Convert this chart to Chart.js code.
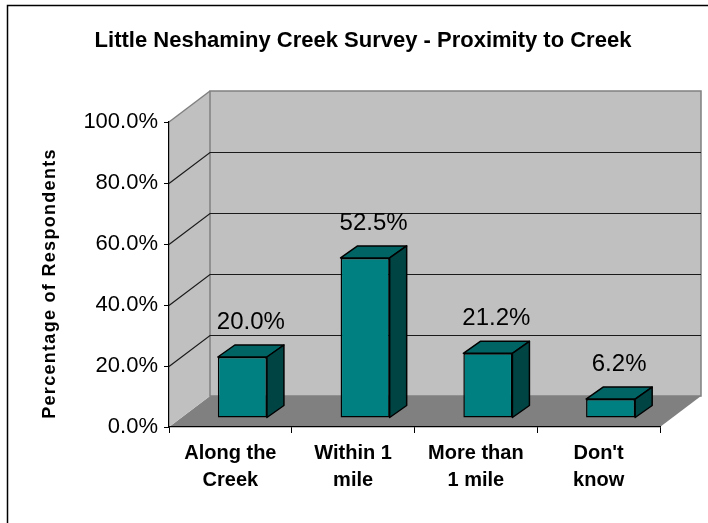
<!DOCTYPE html>
<html>
<head>
<meta charset="utf-8">
<script src="https://cdn.jsdelivr.net/npm/chart.js@4"></script>
<style>
  body { margin: 0; background: #fff; }
</style>
</head>
<body>
<canvas id="chart" width="708" height="523"></canvas>
<script>
// survey data
var categories = [['Along the', 'Creek'], ['Within 1', 'mile'], ['More than', '1 mile'], ["Don't", 'know']];
var percents = [20.0, 52.5, 21.2, 6.2];
var yTicks = [0, 20, 40, 60, 80, 100];

var FONT = '"Liberation Sans", Arial, sans-serif';
Chart.defaults.font.family = FONT;
Chart.defaults.color = '#000';

// fake 3d: how far the walls go back, and where the bars sit in that depth
var wallDepth = { dx: 41, dy: -31 };
var barFront = { dx: 12, dy: -9 };
var barDepth = { dx: 17, dy: -12 };

var excel3d = {
  id: 'excel3d',
  beforeDraw: function (chart) {
    var ctx = chart.ctx;
    var a = chart.chartArea;
    var y = chart.scales.y;
    var dx = wallDepth.dx, dy = wallDepth.dy;
    ctx.save();
    ctx.fillStyle = '#fff';
    ctx.fillRect(0, 0, chart.width, chart.height);

    // outer frame
    ctx.strokeStyle = '#000';
    ctx.lineWidth = 1.5;
    ctx.strokeRect(7.5, 5.5, chart.width + 20, chart.height + 20);

    // floor
    ctx.fillStyle = '#808080';
    ctx.beginPath();
    ctx.moveTo(a.left, a.bottom);
    ctx.lineTo(a.right, a.bottom);
    ctx.lineTo(a.right + dx, a.bottom + dy);
    ctx.lineTo(a.left + dx, a.bottom + dy);
    ctx.closePath();
    ctx.fill();

    // side wall
    ctx.fillStyle = '#c0c0c0';
    ctx.beginPath();
    ctx.moveTo(a.left, a.top);
    ctx.lineTo(a.left + dx, a.top + dy);
    ctx.lineTo(a.left + dx, a.bottom + dy);
    ctx.lineTo(a.left, a.bottom);
    ctx.closePath();
    ctx.fill();
    ctx.strokeStyle = '#808080';
    ctx.lineWidth = 1.5;
    ctx.beginPath();
    ctx.moveTo(a.left, a.top);
    ctx.lineTo(a.left + dx, a.top + dy);
    ctx.stroke();

    // back wall
    ctx.fillRect(a.left + dx, a.top + dy, a.right - a.left, a.bottom - a.top);
    ctx.strokeRect(a.left + dx, a.top + dy, a.right - a.left, a.bottom - a.top);

    // gridlines on both walls
    ctx.strokeStyle = '#1a1a1a';
    ctx.lineWidth = 1.2;
    yTicks.slice(1, -1).forEach(function (v) {
      var py = Math.round(y.getPixelForValue(v)) + 0.5;
      ctx.beginPath();
      ctx.moveTo(a.left, py);
      ctx.lineTo(a.left + dx, py + dy);
      ctx.lineTo(a.right + dx, py + dy);
      ctx.stroke();
    });

    // value axis title
    ctx.translate(50, (a.top + a.bottom) / 2 + 9);
    ctx.rotate(-Math.PI / 2);
    ctx.font = 'bold 18px ' + FONT;
    ctx.letterSpacing = '1.3px';
    ctx.fillStyle = '#000';
    ctx.textAlign = 'center';
    ctx.textBaseline = 'middle';
    ctx.fillText('Percentage of Respondents', 0, 0);
    ctx.restore();
  },
  beforeDatasetsDraw: function (chart) {
    chart.ctx.save();
    chart.ctx.translate(barFront.dx, barFront.dy);
  },
  afterDatasetsDraw: function (chart) {
    var ctx = chart.ctx;
    var meta = chart.getDatasetMeta(0);
    var bx = barDepth.dx, by = barDepth.dy;
    meta.data.forEach(function (bar, i) {
      var l = bar.x - bar.width / 2, r = bar.x + bar.width / 2;
      var t = bar.y, b = bar.base;
      ctx.lineWidth = 1.5;
      ctx.strokeStyle = '#000';
      ctx.lineJoin = 'round';
      // top
      ctx.fillStyle = '#006464';
      ctx.beginPath();
      ctx.moveTo(l, t);
      ctx.lineTo(l + bx, t + by);
      ctx.lineTo(r + bx, t + by);
      ctx.lineTo(r, t);
      ctx.closePath();
      ctx.fill();
      ctx.stroke();
      // side
      ctx.fillStyle = '#004444';
      ctx.beginPath();
      ctx.moveTo(r, t);
      ctx.lineTo(r + bx, t + by);
      ctx.lineTo(r + bx, b + by);
      ctx.lineTo(r, b);
      ctx.closePath();
      ctx.fill();
      ctx.stroke();
      // value label
      ctx.font = '24px ' + FONT;
      ctx.fillStyle = '#000';
      ctx.textAlign = 'center';
      ctx.textBaseline = 'alphabetic';
      ctx.fillText(percents[i].toFixed(1) + '%', bar.x + bx / 2, t + by - 16);
    });
    ctx.restore();
  }
};

new Chart(document.getElementById('chart'), {
  type: 'bar',
  data: {
    labels: categories,
    datasets: [{
      data: percents,
      backgroundColor: '#008080',
      borderColor: '#000',
      borderWidth: 1.5,
      borderSkipped: false,
      categoryPercentage: 1,
      barPercentage: 0.4,
      clip: false
    }]
  },
  options: {
    responsive: false,
    animation: false,
    events: [],
    layout: { padding: { left: 66, right: 48, top: 0, bottom: 0 } },
    plugins: {
      legend: { display: false },
      tooltip: { enabled: false },
      title: {
        display: true,
        text: 'Little Neshaminy Creek Survey - Proximity to Creek',
        font: { size: 22, weight: 'bold' },
        color: '#000',
        padding: { top: 28, bottom: 67.6 }
      }
    },
    scales: {
      x: {
        afterFit: function (s) { s.height = 96; },
        grid: { drawOnChartArea: false, color: '#000', tickLength: 6, offset: true },
        border: { color: '#000', width: 1.2 },
        ticks: {
          font: { size: 20, weight: 'bold', lineHeight: 1.35 },
          color: '#000',
          padding: 7,
          maxRotation: 0,
          autoSkip: false
        }
      },
      y: {
        min: 0,
        max: 100,
        afterFit: function (s) { s.width = 103; },
        afterBuildTicks: function (s) { s.ticks = yTicks.map(function (v) { return { value: v }; }); },
        grid: { drawOnChartArea: false, color: '#000', tickLength: 5 },
        border: { color: '#000', width: 1.2 },
        ticks: {
          font: { size: 22 },
          color: '#000',
          padding: 6,
          callback: function (v) { return v.toFixed(1) + '%'; }
        }
      }
    }
  },
  plugins: [excel3d]
});
</script>
</body>
</html>
